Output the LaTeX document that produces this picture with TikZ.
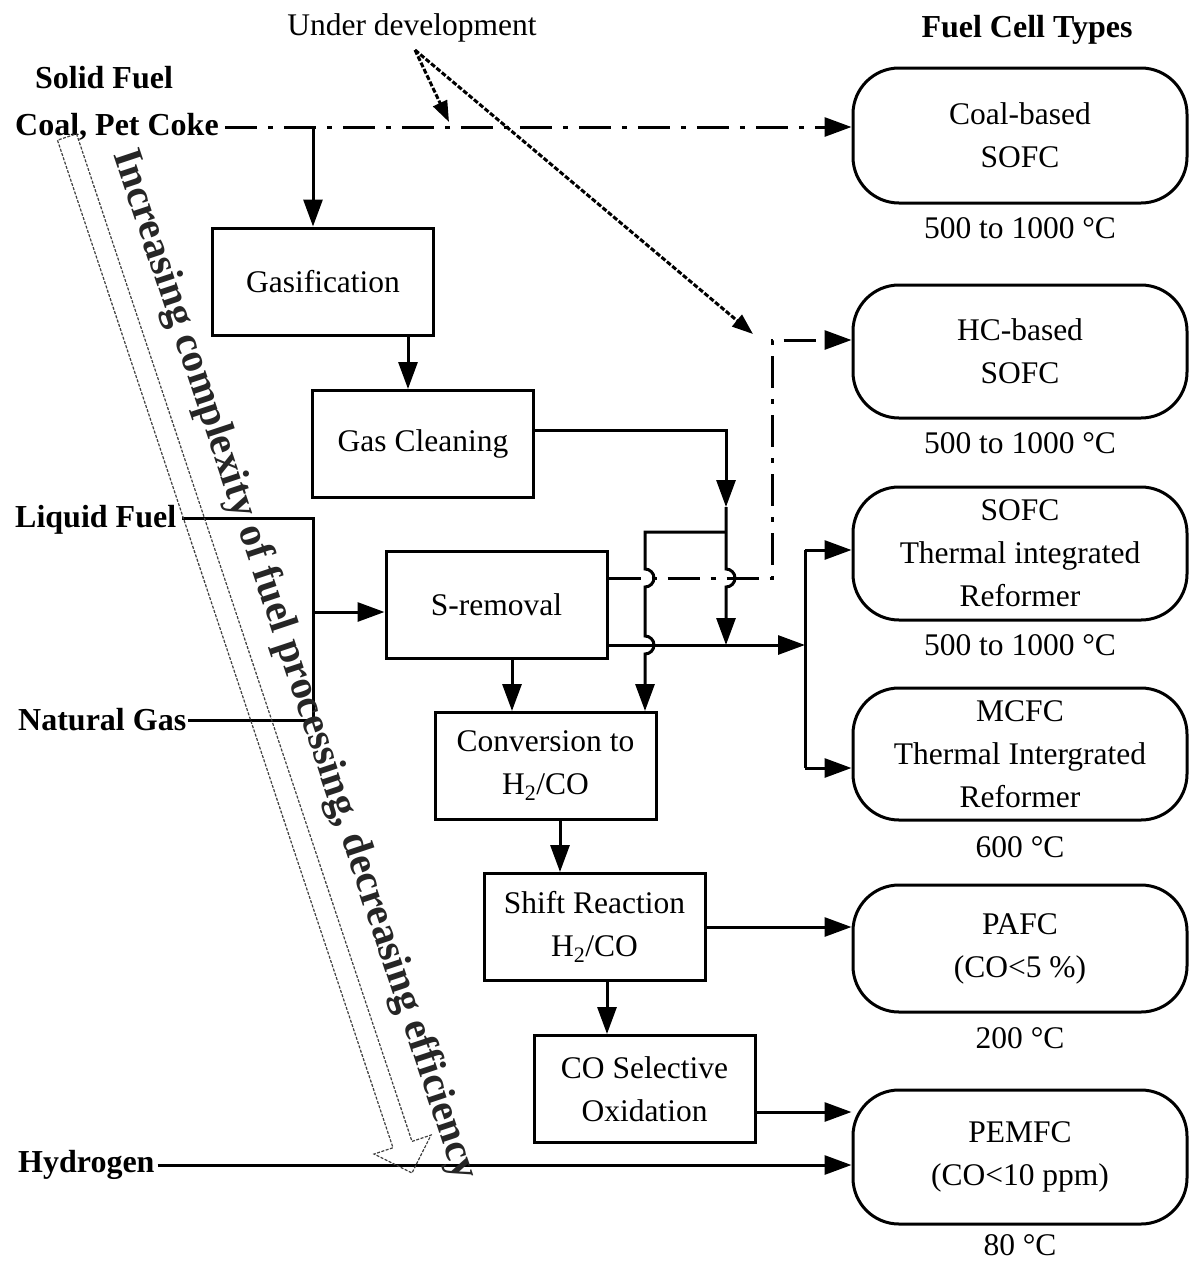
\documentclass[tikz,border=0pt]{standalone}
\usepackage{fontspec}
\setmainfont{Liberation Serif}
\usetikzlibrary{arrows.meta,calc}
\begin{document}
\begin{tikzpicture}[x=1pt,y=-1pt,
  proc/.style={draw,line width=3pt,minimum width=221pt,minimum height=107pt,inner sep=0pt,align=center,font=\fontsize{31.5}{43}\selectfont},
  fc/.style={draw,line width=3pt,rounded corners=46pt,minimum width=334pt,inner sep=0pt,align=center,font=\fontsize{31.5}{43}\selectfont},
  bl/.style={font=\fontsize{32}{38}\selectfont\bfseries,inner sep=0pt},
  tl/.style={font=\fontsize{31.5}{37}\selectfont,inner sep=0pt},
  ln/.style={line width=3pt},
  ar/.style={line width=3pt,-{Triangle[length=27pt,width=19pt]}},
  dd/.style={dash pattern=on 32pt off 11pt on 5pt off 11pt},
  ud/.style={line width=3pt,dash pattern=on 5pt off 2pt,-{Triangle[length=21pt,width=15pt]}},
]
\useasboundingbox (0,0) rectangle (1191,1262);
\fill[white] (0,0) rectangle (1191,1262);

% titles
\node[tl] (ud) at (412,28) {Under development};
\node[bl] (fct) at (1027,30) {Fuel Cell Types};
\node[bl] (sf) at (104,78) {Solid Fuel};
\node[bl,anchor=west] (coal) at (15,127) {Coal, Pet Coke};
\node[bl,anchor=west] (lf) at (15,520) {Liquid Fuel};
\node[bl,anchor=west] (ng) at (18,720) {Natural Gas};
\node[bl,anchor=west] (h2) at (18,1165) {Hydrogen};

% fuel cell boxes
\node[fc,minimum height=135pt] (f1) at (1020,135.5) {Coal-based\\SOFC};
\node[fc,minimum height=133pt] (f2) at (1020,351.5) {HC-based\\SOFC};
\node[fc,minimum height=133pt] (f3) at (1020,553.5) {SOFC\\Thermal integrated\\Reformer};
\node[fc,minimum height=132pt] (f4) at (1020,754) {MCFC\\Thermal Intergrated\\Reformer};
\node[fc,minimum height=127pt] (f5) at (1020,948.5) {PAFC\\(CO<5 \%)};
\node[fc,minimum height=134pt] (f6) at (1020,1157) {PEMFC\\(CO<10 ppm)};

\node[tl] (t1) at (1020,228) {500 to 1000 °C};
\node[tl] (t2) at (1020,443) {500 to 1000 °C};
\node[tl] (t3) at (1020,645) {500 to 1000 °C};
\node[tl] (t4) at (1020,847) {600 °C};
\node[tl] (t5) at (1020,1038) {200 °C};
\node[tl] (t6) at (1020,1245) {80 °C};

% process boxes
\node[proc] (gas) at (323,281.5) {Gasification};
\node[proc] (cln) at (423,444) {Gas Cleaning};
\node[proc] (srm) at (496.5,605) {S-removal};
\node[proc] (cnv) at (545.5,766) {Conversion to\\H\textsubscript{2}/CO};
\node[proc] (shf) at (594.5,927) {Shift Reaction\\H\textsubscript{2}/CO};
\node[proc] (cos) at (644.5,1089) {CO Selective\\Oxidation};

% helper coordinates
\coordinate (cb) at (313,127);
\coordinate (xa) at (408,0);
\coordinate (g1) at (726,430);
\coordinate (g2) at (726,507);
\coordinate (g3) at (726,532);
\coordinate (g4) at (645,532);
\coordinate (s2) at (805,645);
\coordinate (b1) at (805,550);
\coordinate (b2) at (805,768);
\coordinate (d1) at (772,578);
\coordinate (d2) at (772,340);
\coordinate (l1) at (313,518);
\coordinate (l3) at (313,612);
\coordinate (x1) at (512,0);
\coordinate (x2) at (560,0);
\coordinate (x3) at (607,0);
\coordinate (y1) at (0,1112);
\coordinate (u0) at (415,50);
\coordinate (u1) at (449,122);
\coordinate (u2) at (753,334);

% solid fuel
\draw[ar,dd,shorten <=6pt] (coal.east) -- (coal.east -| f1.west);
\draw[ar] (cb) -- (cb |- gas.north);
\draw[ar] (gas.south -| xa) -- (cln.north -| xa);

% gas cleaning output
\draw[ar] (cln.east |- g1) -- (g1) -- (g2);
\draw[ar] (g2) -- (726,569) arc[start angle=90,end angle=-90,radius=9pt] -- (g1 |- s2);
\draw[ar] (g3) -- (g4) -- (645,569) arc[start angle=90,end angle=-90,radius=9pt]
  -- (645,636) arc[start angle=90,end angle=-90,radius=9pt] -- (g4 |- cnv.north);

% S-removal outputs
\draw[ar,dd] (srm.east |- d1) -- (d1) -- (d2) -- (d2 -| f2.west);
\draw[ar] (srm.east |- s2) -- (s2);
\draw[ln] (b1) -- (b2);
\draw[ar] (b1) -- (b1 -| f3.west);
\draw[ar] (b2) -- (b2 -| f4.west);

% main chain
\draw[ar] (srm.south -| x1) -- (cnv.north -| x1);
\draw[ar] (cnv.south -| x2) -- (shf.north -| x2);
\draw[ar] (shf.south -| x3) -- (cos.north -| x3);
\draw[ar] (shf.east) -- (shf.east -| f5.west);
\draw[ar] (cos.east |- y1) -- (y1 -| f6.west);
\draw[ar,shorten <=3pt] (h2.east) -- (h2.east -| f6.west);

% liquid fuel and natural gas
\draw[ln,shorten <=6pt] (lf.east |- l1) -- (l1) -- (l1 |- ng.east) -- ([xshift=2pt]ng.east);
\draw[ar] (l3) -- (l3 -| srm.west);

% under development
\draw[ud] (u0) -- (u1);
\draw[ud] (u0) -- (u2);

% diagonal hollow arrow
\draw[black!75, line width=1.2pt, dash pattern=on 3pt off 1.5pt]
  (76.5,133.8) -- (412,1141.4) -- (431,1135.1) -- (412,1173) -- (374.1,1154) -- (393,1147.7) -- (57.5,140.2) -- cycle;
\node[font=\fontsize{41}{41}\selectfont\bfseries, text=black!85, rotate=-71.6, inner sep=0pt] (dt) at (294,665)
  {Increasing complexity of fuel processing, decreasing efficiency};
\end{tikzpicture}
\end{document}
